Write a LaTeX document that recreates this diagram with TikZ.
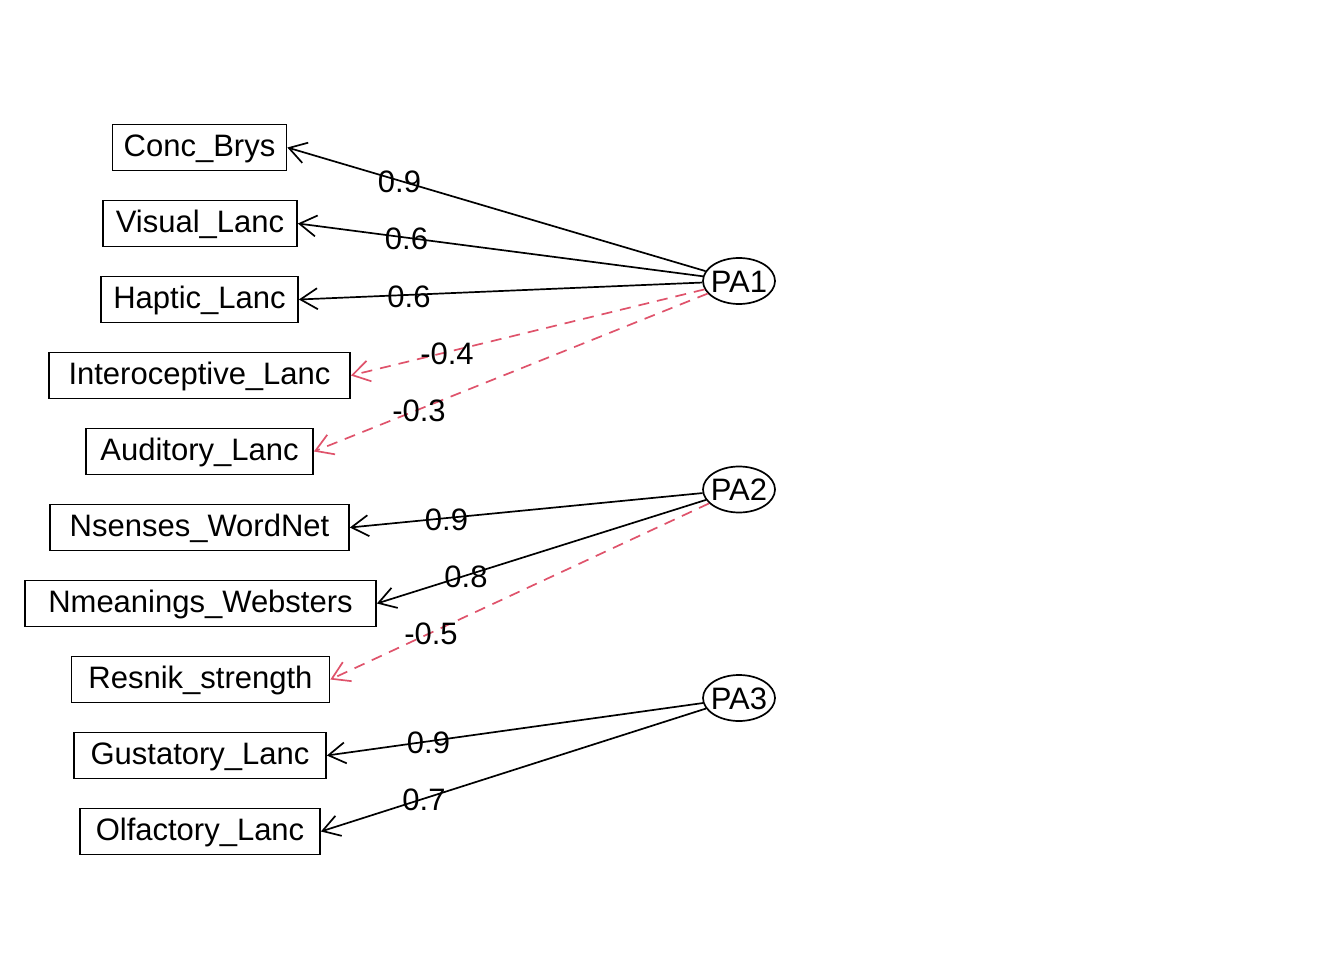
\documentclass[tikz,border=0pt]{standalone}
\usepackage{fontspec}
\setmainfont{Liberation Sans}
\usetikzlibrary{arrows.meta,shapes.geometric}
\definecolor{negred}{HTML}{DF536B}
\begin{document}
\begin{tikzpicture}[x=1pt,y=-1pt,
  txt/.style={font=\fontsize{31}{36}\selectfont},
  var/.style={txt,draw,line width=1.7pt,rectangle,minimum height=46pt,inner sep=0pt,text height=23pt,text depth=4.8pt},
  fac/.style={txt,draw,ellipse,line width=1.7pt,minimum width=72pt,minimum height=46pt,inner sep=0pt,text height=22pt,text depth=0pt},
  load/.style={-{Straight Barb[length=17pt,width=21pt]},line width=1.7pt},
  neg/.style={load,negred,dash pattern=on 11pt off 8pt},
  lbl/.style={txt,inner sep=0pt,text height=22pt,text depth=0pt}
]
\useasboundingbox (0,0) rectangle (1344,960);

\node[var,minimum width=174pt] (conc) at (199.5,147.5) {Conc\_Brys};
\node[var,minimum width=194pt] (vis) at (200,223.5) {Visual\_Lanc};
\node[var,minimum width=197pt] (hap) at (199.5,299.5) {Haptic\_Lanc};
\node[var,minimum width=301pt] (int) at (199.5,375.5) {Interoceptive\_Lanc};
\node[var,minimum width=227pt] (aud) at (199.5,451.5) {Auditory\_Lanc};
\node[var,minimum width=299pt] (nsen) at (199.5,527.5) {Nsenses\_WordNet};
\node[var,minimum width=351pt] (nmea) at (200.5,603.5) {Nmeanings\_Websters};
\node[var,minimum width=258pt] (res) at (200.5,679.5) {Resnik\_strength};
\node[var,minimum width=252pt] (gus) at (200,755.5) {Gustatory\_Lanc};
\node[var,minimum width=240pt] (olf) at (200,831.5) {Olfactory\_Lanc};

\node[fac] (pa1) at (739,281) {\makebox[0pt]{PA1}};
\node[fac] (pa2) at (739,489.5) {\makebox[0pt]{PA2}};
\node[fac] (pa3) at (739,698) {\makebox[0pt]{PA3}};

\draw[load] (pa1) -- (conc.east);
\draw[load] (pa1) -- (vis.east);
\draw[load] (pa1) -- (hap.east);
\draw[neg] (pa1) -- (int.east);
\draw[neg] (pa1) -- (aud.east);
\draw[load] (pa2) -- (nsen.east);
\draw[load] (pa2) -- (nmea.east);
\draw[neg] (pa2) -- (res.east);
\draw[load] (pa3) -- (gus.east);
\draw[load] (pa3) -- (olf.east);

\node[lbl] (l1) at (399.5,182) {0.9};
\node[lbl] (l2) at (406.5,239) {0.6};
\node[lbl] (l3) at (409,296) {0.6};
\node[lbl] (l4) at (447,353) {-0.4};
\node[lbl] (l5) at (419,410.5) {-0.3};
\node[lbl] (l6) at (446.5,519) {0.9};
\node[lbl] (l7) at (466,576) {0.8};
\node[lbl] (l8) at (431,633) {-0.5};
\node[lbl] (l9) at (428.5,742) {0.9};
\node[lbl] (l10) at (424,799) {0.7};
\end{tikzpicture}
\end{document}
